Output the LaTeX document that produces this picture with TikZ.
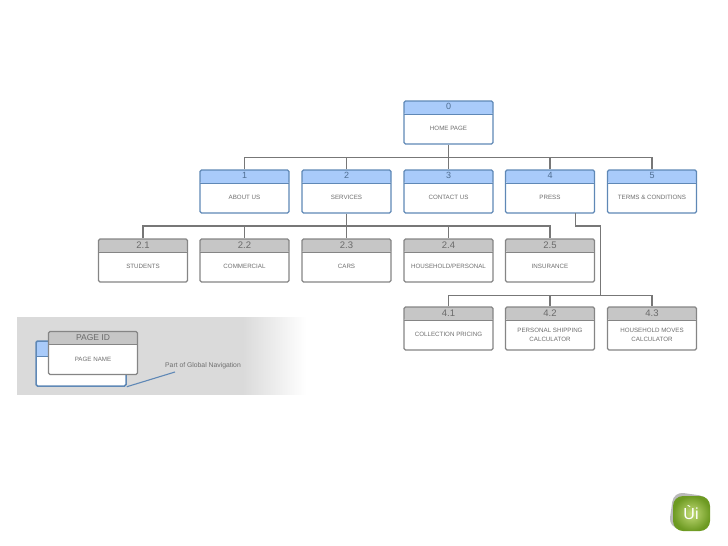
\documentclass[tikz,border=0pt]{standalone}
\usepackage{fontspec}
\setmainfont{Liberation Sans}
\definecolor{bluehead}{HTML}{A9CBFA}
\definecolor{blueline}{HTML}{5F88B6}
\definecolor{grayhead}{HTML}{C6C6C6}
\definecolor{grayline}{HTML}{858585}
\definecolor{connline}{HTML}{777777}
\definecolor{idblue}{HTML}{4F6E92}
\definecolor{idgray}{HTML}{6A6A6A}
\definecolor{labeltext}{HTML}{6E6E6E}
\definecolor{band}{HTML}{DADADA}
\definecolor{logogreen}{HTML}{A9CC3E}
\definecolor{logodark}{HTML}{6D9A22}
\pgfdeclarehorizontalshading{bandfade}{100bp}{color(0bp)=(band); color(64bp)=(band); color(75bp)=(white); color(100bp)=(white)}
\tikzset{
  pagebox/.style n args={3}{draw=#2, line width=1.3pt, rounded corners=1.5pt, fill=white,
    minimum width=89pt, minimum height=43pt, inner sep=0pt,
    path picture={
      \fill[#1] (path picture bounding box.north west) rectangle ([yshift=-#3]path picture bounding box.north east);
      \draw[#2, line width=0.9pt] ([yshift=-#3]path picture bounding box.north west) -- ([yshift=-#3]path picture bounding box.north east);
    }},
  bluebox/.style={pagebox={bluehead}{blueline}{13pt}},
  graybox/.style={pagebox={grayhead}{grayline}{13pt}},
  idblue/.style={text=idblue, font=\fontsize{9}{10}\selectfont, inner sep=0pt},
  idgray/.style={text=idgray, font=\fontsize{9.5}{10}\selectfont, inner sep=0pt},
  pagename/.style={text=labeltext, font=\fontsize{6.2}{9}\selectfont, align=center, inner sep=0pt},
  conn/.style={draw=connline, line width=1.2pt},
}
\newcommand{\pgbox}[6]{%
  \node[#4] (#1) at (#2,#3) {};
  \node[id#5] (#1id) at ([yshift=-6.5pt]#1.north) {\pgid};
  \node[pagename] (#1name) at ([yshift=-6pt]#1.center) {#6};
}
\newcommand{\mybox}[7]{\def\pgid{#6}\pgbox{#1}{#2}{#3}{#4}{#5}{#7}}
\begin{document}
\begin{tikzpicture}[x=1pt,y=-1pt]
\useasboundingbox (0,0) rectangle (728,546);
% legend band
\shade[shading=bandfade, draw=none] (17,317) rectangle (306,394);
% hierarchy
\mybox{home}{448.5}{122.5}{bluebox}{blue}{0}{HOME PAGE}
\mybox{a}{244.5}{191.5}{bluebox}{blue}{1}{ABOUT US}
\mybox{b}{346.5}{191.5}{bluebox}{blue}{2}{SERVICES}
\mybox{c}{448.5}{191.5}{bluebox}{blue}{3}{CONTACT US}
\mybox{d}{550}{191.5}{bluebox}{blue}{4}{PRESS}
\mybox{e}{652}{191.5}{bluebox}{blue}{5}{TERMS \& CONDITIONS}
\mybox{ba}{143}{260.5}{graybox}{gray}{2.1}{STUDENTS}
\mybox{bb}{244.5}{260.5}{graybox}{gray}{2.2}{COMMERCIAL}
\mybox{bc}{346.5}{260.5}{graybox}{gray}{2.3}{CARS}
\mybox{bd}{448.5}{260.5}{graybox}{gray}{2.4}{HOUSEHOLD/PERSONAL}
\mybox{be}{550}{260.5}{graybox}{gray}{2.5}{INSURANCE}
\mybox{da}{448.5}{328.5}{graybox}{gray}{4.1}{COLLECTION PRICING}
\mybox{db}{550}{328.5}{graybox}{gray}{4.2}{PERSONAL SHIPPING\\CALCULATOR}
\mybox{dc}{652}{328.5}{graybox}{gray}{4.3}{HOUSEHOLD MOVES\\CALCULATOR}
% connectors
\coordinate (busone) at (448.5,157.5);
\coordinate (bustwo) at (346.5,226);
\coordinate (busthree) at (600.5,295.5);
\coordinate (pressout) at (575.5,213);
\coordinate (pressturn) at (600.5,226);
\draw[conn] (home.south) -- (c.north);
\draw[conn] (a.north) |- (busone) -| (e.north);
\draw[conn] (b.north) |- (busone);
\draw[conn] (d.north) |- (busone);
\draw[conn] (b.south) -- (bc.north);
\draw[conn] (ba.north) |- (bustwo) -| (be.north);
\draw[conn] (bb.north) |- (bustwo);
\draw[conn] (bd.north) |- (bustwo);
\draw[conn] (pressout) |- (pressturn) -- (busthree);
\draw[conn] (da.north) |- (busthree) -| (dc.north);
\draw[conn] (db.north) |- (busthree);
% legend
\node[pagebox={bluehead}{blueline}{15pt}, minimum width=90pt, minimum height=45pt, line width=1.5pt] (legblue) at (81,363.5) {};
\node[graybox] (leggray) at (93,353) {};
\node[text=idgray, font=\fontsize{8.5}{10}\selectfont, inner sep=0pt] (legid) at ([yshift=-6.5pt]leggray.north) {PAGE ID};
\node[pagename] (legname) at ([yshift=-6pt]leggray.center) {PAGE NAME};
\node[text=labeltext, font=\fontsize{6.8}{8}\selectfont, inner sep=0pt] (note) at (203,366) {Part of Global Navigation};
\coordinate (noteend) at (175,372);
\draw[blueline, line width=1.1pt] (legblue.south east) -- (noteend);
% logo
\fill[gray!55, rounded corners=10pt, rotate around={-8:(689,512)}] (671,494) rectangle (707,530);
\shade[inner color=logogreen!70!white, outer color=logodark, rounded corners=10pt] (673,496) rectangle (710,531);
\node[text=white, font=\fontsize{16}{16}\selectfont, inner sep=0pt] (logo) at (691,513) {Ùi};
\end{tikzpicture}
\end{document}
